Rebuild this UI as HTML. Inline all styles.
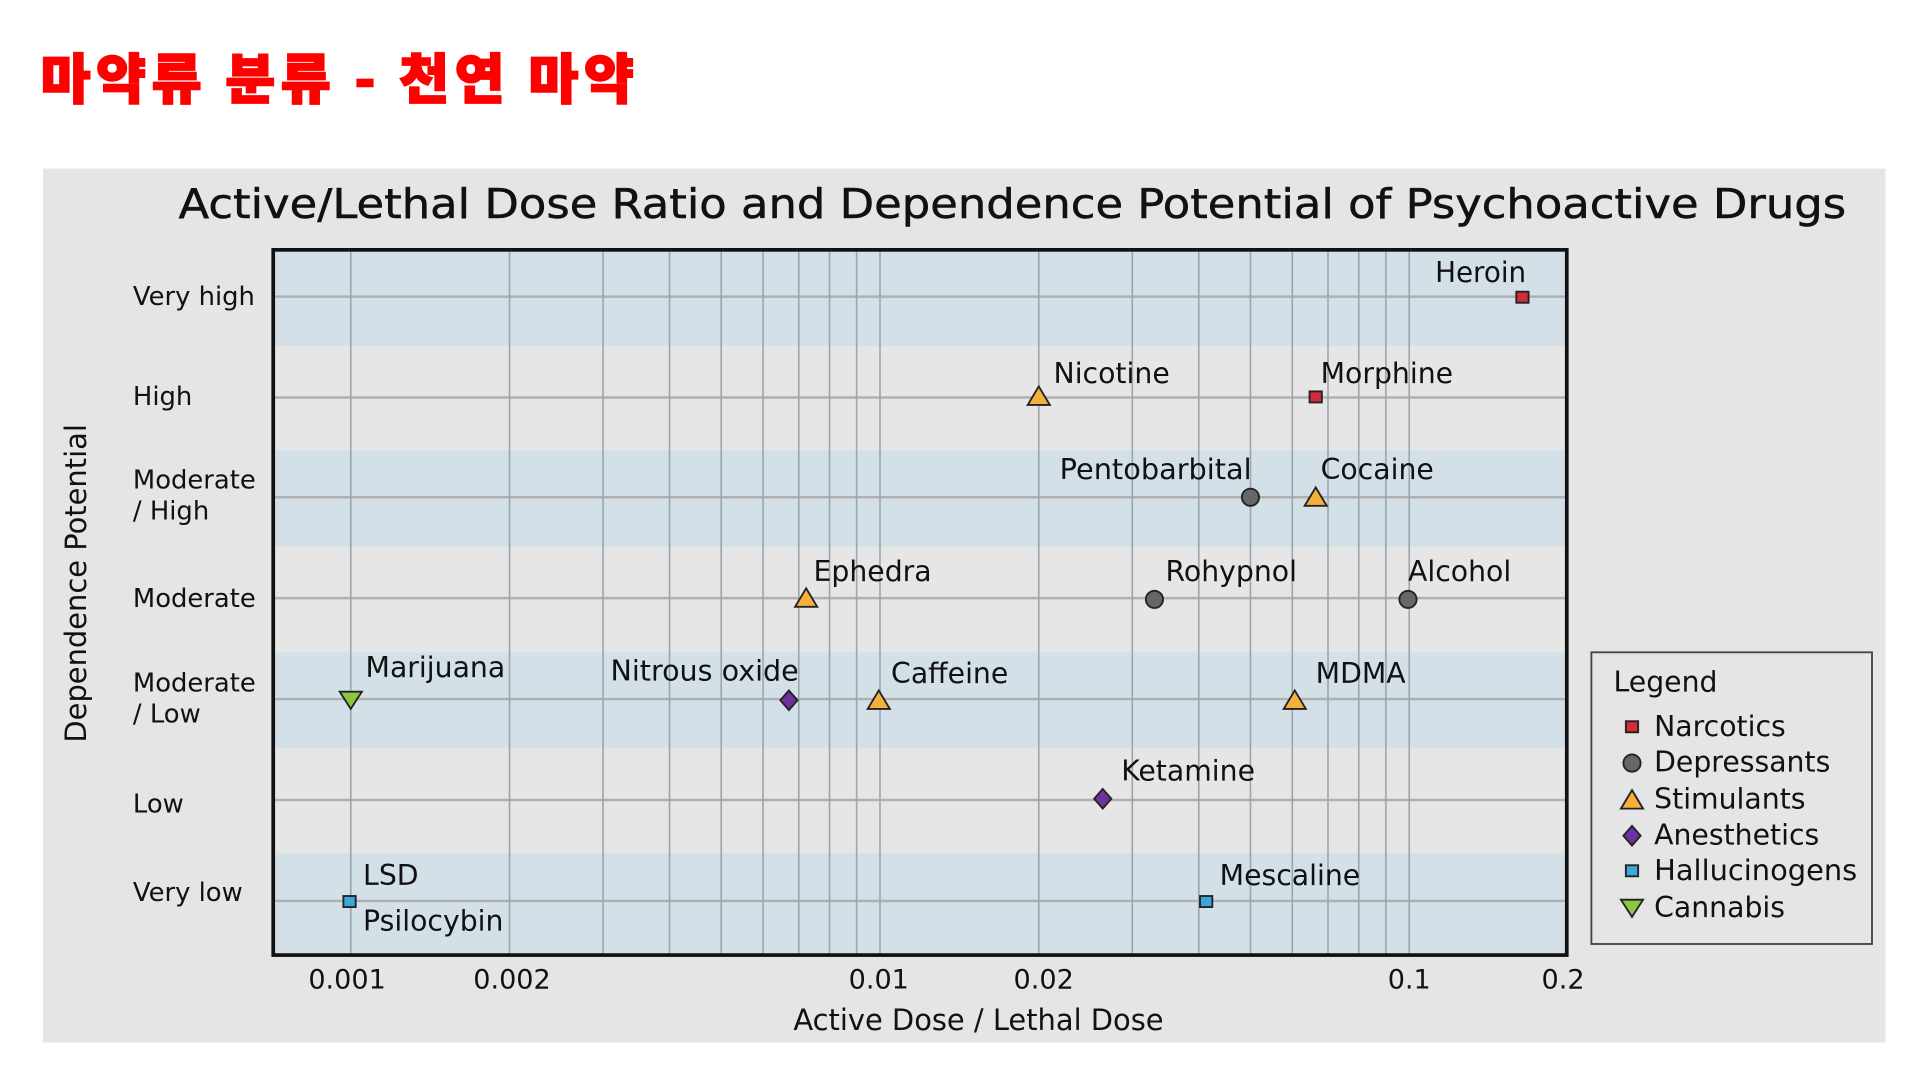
<!DOCTYPE html>
<html><head><meta charset="utf-8"><style>html,body{margin:0;padding:0;background:#fff}svg{display:block}</style></head>
<body>
<svg width="1920" height="1080" viewBox="0 0 1560 877.5" preserveAspectRatio="none" xmlns="http://www.w3.org/2000/svg" font-family="'DejaVu Sans','Liberation Sans',sans-serif">
<rect width="1560" height="877.5" fill="#fff"/>
<text x="33" y="80" fill="#ff0000" stroke="#ff0000" stroke-width="1.5" font-size="44" font-weight="900" font-family="'Noto Sans CJK KR','NanumGothic',sans-serif" textLength="482" lengthAdjust="spacing">마약류 분류 - 천연 마약</text>
<rect x="35" y="137" width="1497" height="710" fill="#e5e5e5"/>
<text x="145" y="177" font-size="33" fill="#111" stroke="#111" stroke-width="0.4" textLength="1355" lengthAdjust="spacingAndGlyphs">Active/Lethal Dose Ratio and Dependence Potential of Psychoactive Drugs</text>
<rect x="222" y="203" width="1051" height="573" fill="#e6e6e6"/>
<g fill="#d3e0e8">
<rect x="222" y="203" width="1051" height="78"/>
<rect x="222" y="366" width="1051" height="78"/>
<rect x="222" y="530" width="1051" height="78"/>
<rect x="222" y="693" width="1051" height="83"/>
</g>
<g stroke="#b0b0b0" stroke-width="2">
<line x1="222" x2="1273" y1="241" y2="241"/><line x1="222" x2="1273" y1="323" y2="323"/>
<line x1="222" x2="1273" y1="404" y2="404"/><line x1="222" x2="1273" y1="486" y2="486"/>
<line x1="222" x2="1273" y1="568" y2="568"/><line x1="222" x2="1273" y1="650" y2="650"/>
<line x1="222" x2="1273" y1="732" y2="732"/>
</g>
<g stroke="#9aa6ad" stroke-width="1.3">
<line x1="285" x2="285" y1="203" y2="776"/><line x1="414" x2="414" y1="203" y2="776"/>
<line x1="490" x2="490" y1="203" y2="776"/><line x1="544" x2="544" y1="203" y2="776"/>
<line x1="586" x2="586" y1="203" y2="776"/><line x1="620" x2="620" y1="203" y2="776"/>
<line x1="649" x2="649" y1="203" y2="776"/><line x1="674" x2="674" y1="203" y2="776"/>
<line x1="696" x2="696" y1="203" y2="776"/><line x1="715" x2="715" y1="203" y2="776"/>
<line x1="844" x2="844" y1="203" y2="776"/><line x1="920" x2="920" y1="203" y2="776"/>
<line x1="974" x2="974" y1="203" y2="776"/><line x1="1016" x2="1016" y1="203" y2="776"/>
<line x1="1050" x2="1050" y1="203" y2="776"/><line x1="1079" x2="1079" y1="203" y2="776"/>
<line x1="1104" x2="1104" y1="203" y2="776"/><line x1="1126" x2="1126" y1="203" y2="776"/>
<line x1="1145" x2="1145" y1="203" y2="776"/>
</g>
<rect x="222" y="203" width="1051" height="573" fill="none" stroke="#111" stroke-width="3"/>
<g font-size="21" fill="#111">
<text x="108" y="248">Very high</text>
<text x="108" y="329">High</text>
<text x="108" y="397">Moderate</text><text x="108" y="422">/ High</text>
<text x="108" y="493">Moderate</text>
<text x="108" y="562">Moderate</text><text x="108" y="587">/ Low</text>
<text x="108" y="660">Low</text>
<text x="108" y="732">Very low</text>
</g>
<g font-size="22" fill="#111" text-anchor="middle">
<text x="282" y="803">0.001</text><text x="416" y="803">0.002</text><text x="714" y="803">0.01</text>
<text x="848" y="803">0.02</text><text x="1145" y="803">0.1</text><text x="1270" y="803">0.2</text>
</g>
<text x="795" y="837" font-size="23.5" fill="#111" text-anchor="middle">Active Dose / Lethal Dose</text>
<text transform="translate(70,474) rotate(-90)" font-size="23.5" fill="#111" text-anchor="middle">Dependence Potential</text>
<g stroke="#222" stroke-width="1.5">
<rect x="1232" y="237" width="10" height="9" fill="#d42a3a"/>
<rect x="1064" y="318" width="10" height="9" fill="#d42a3a"/>
<polygon points="844,314 853,329 835,329" fill="#f5b03a"/>
<circle cx="1016" cy="404" r="7" fill="#666"/>
<polygon points="1069,396 1078,411 1060,411" fill="#f5b03a"/>
<polygon points="655,478 664,493 646,493" fill="#f5b03a"/>
<circle cx="938" cy="487" r="7" fill="#666"/>
<circle cx="1144" cy="487" r="7" fill="#666"/>
<polygon points="276,562 294,562 285,576" fill="#8cc63f"/>
<polygon points="641,561 648,569 641,577 634,569" fill="#7030a0"/>
<polygon points="714,561 723,576 705,576" fill="#f5b03a"/>
<polygon points="1052,561 1061,576 1043,576" fill="#f5b03a"/>
<polygon points="896,641 903,649 896,657 889,649" fill="#7030a0"/>
<rect x="279" y="728" width="10" height="9" fill="#3aa8d8"/>
<rect x="975" y="728" width="10" height="9" fill="#3aa8d8"/>
</g>
<g font-size="23" fill="#111">
<text x="1166" y="229" textLength="74" lengthAdjust="spacingAndGlyphs">Heroin</text>
<text x="856" y="311">Nicotine</text>
<text x="1073" y="311">Morphine</text>
<text x="861" y="389" textLength="156" lengthAdjust="spacingAndGlyphs">Pentobarbital</text>
<text x="1073" y="389">Cocaine</text>
<text x="661" y="472">Ephedra</text>
<text x="947" y="472">Rohypnol</text>
<text x="1144" y="472">Alcohol</text>
<text x="297" y="550">Marijuana</text>
<text x="496" y="553" textLength="153" lengthAdjust="spacingAndGlyphs">Nitrous oxide</text>
<text x="724" y="555">Caffeine</text>
<text x="1069" y="555">MDMA</text>
<text x="911" y="634">Ketamine</text>
<text x="295" y="719">LSD</text>
<text x="295" y="756">Psilocybin</text>
<text x="991" y="719">Mescaline</text>
</g>
<rect x="1293" y="530" width="228" height="237" fill="#e5e5e5" stroke="#444" stroke-width="1.5"/>
<g font-size="23" fill="#111">
<text x="1311" y="562">Legend</text>
<text x="1344" y="598">Narcotics</text>
<text x="1344" y="627">Depressants</text>
<text x="1344" y="657">Stimulants</text>
<text x="1344" y="686">Anesthetics</text>
<text x="1344" y="715" textLength="165" lengthAdjust="spacingAndGlyphs">Hallucinogens</text>
<text x="1344" y="745">Cannabis</text>
</g>
<g stroke="#222" stroke-width="1.5">
<rect x="1321" y="586" width="10" height="9" fill="#d42a3a"/>
<circle cx="1326" cy="620" r="7" fill="#666"/>
<polygon points="1326,642 1335,657 1317,657" fill="#f5b03a"/>
<polygon points="1326,671 1333,679 1326,687 1319,679" fill="#7030a0"/>
<rect x="1321" y="703" width="10" height="9" fill="#3aa8d8"/>
<polygon points="1317,731 1335,731 1326,745" fill="#8cc63f"/>
</g>
</svg>
</body></html>
